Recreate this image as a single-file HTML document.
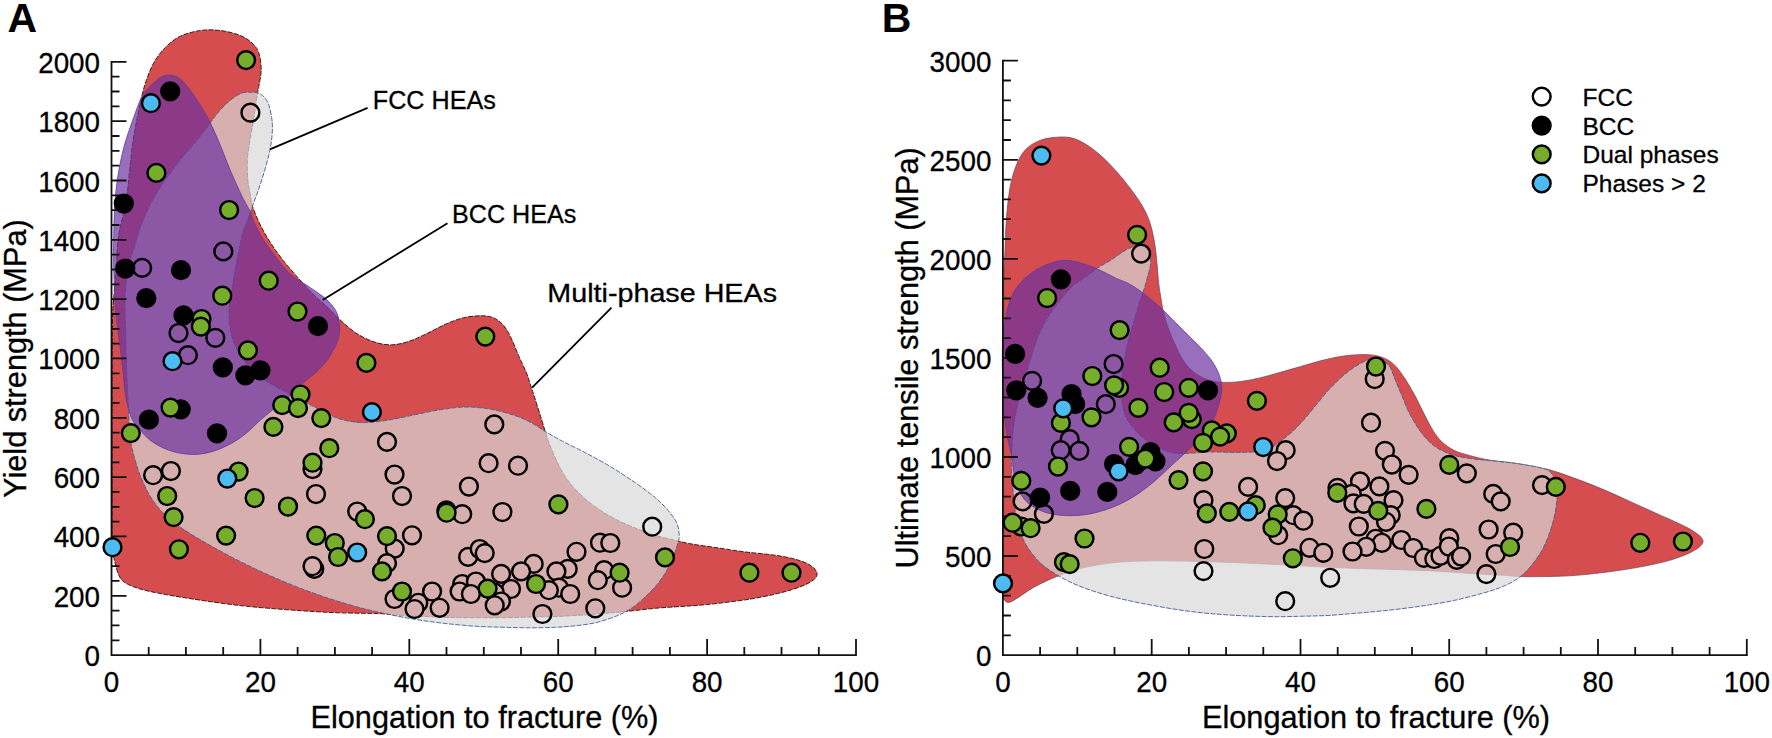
<!DOCTYPE html>
<html lang="en"><head><meta charset="utf-8"><title>HEA strength vs elongation</title>
<style>
html,body{margin:0;padding:0;background:#fff}
body{width:1772px;height:738px;overflow:hidden}
svg{display:block}
text{font-family:"Liberation Sans",sans-serif;fill:#000}
.tk,.ax,.an,.lg text{stroke:#000;stroke-width:.3px}
.tk{font-size:28.5px}
.ax{font-size:30.7px}
.pl{font-size:41px;font-weight:bold;fill:#000}
.an{font-size:26.4px}
.lg text{font-size:24.5px}
</style></head><body>
<svg width="1772" height="738" viewBox="0 0 1772 738">
<rect width="100%" height="100%" fill="#fff"/>
<g id="panelA">
<g id="bgA">
<path d="M112.0 548.0C111.9 539.3 112.0 518.0 112.0 500.0C112.0 482.0 112.0 460.0 112.0 440.0C112.0 420.0 111.9 400.0 112.0 380.0C112.1 360.0 112.2 334.2 112.5 320.0C112.8 305.8 113.4 303.3 114.0 295.0C114.6 286.7 115.3 279.7 116.0 270.0C116.7 260.3 117.2 246.1 118.4 237.0C119.6 227.9 121.5 222.7 123.0 215.5C124.5 208.3 126.0 201.5 127.1 193.8C128.2 186.1 128.9 177.5 129.8 169.4C130.7 161.3 131.4 153.1 132.5 145.0C133.6 136.9 135.1 128.6 136.6 120.7C138.1 112.8 139.8 104.5 141.4 97.7C143.0 91.0 144.3 86.0 146.4 80.2C148.5 74.4 150.8 68.0 153.9 62.6C157.0 57.2 160.8 52.0 165.2 47.6C169.6 43.2 174.3 39.1 180.2 36.3C186.0 33.4 193.6 31.5 200.3 30.5C207.0 29.5 213.6 29.7 220.3 30.5C227.0 31.3 235.0 33.3 240.4 35.5C245.8 37.7 249.8 40.8 252.9 43.8C256.0 46.8 257.7 49.4 259.1 53.8C260.5 58.2 261.2 64.9 261.2 70.1C261.2 75.3 259.7 81.2 259.1 85.2C258.5 89.2 258.3 88.1 257.4 93.9C256.4 99.8 254.7 112.6 253.4 120.3C252.2 128.0 250.9 133.6 249.9 140.3C248.9 147.0 247.7 153.7 247.4 160.4C247.1 167.1 247.4 174.6 247.9 180.4C248.4 186.2 249.6 190.9 250.4 195.4C251.2 199.9 251.2 202.6 252.9 207.5C254.6 212.4 257.5 219.2 260.4 225.1C263.3 230.9 266.6 236.8 270.4 242.6C274.2 248.4 278.4 254.3 283.0 260.2C287.6 266.1 293.0 272.1 298.0 277.7C303.0 283.3 308.0 289.0 313.0 294.0C318.0 299.0 323.5 303.4 328.1 307.8C332.7 312.2 336.0 316.1 340.6 320.3C345.2 324.5 350.2 329.2 355.6 332.8C361.0 336.4 367.4 339.6 373.2 341.6C379.0 343.6 384.8 344.9 390.7 344.9C396.6 344.9 402.4 343.4 408.3 341.6C414.2 339.8 419.5 337.0 425.8 334.1C432.1 331.2 439.6 326.8 445.9 324.1C452.2 321.4 457.5 319.2 463.4 317.8C469.2 316.4 476.0 315.8 481.0 315.8C486.0 315.8 489.8 316.2 493.5 317.8C497.2 319.4 500.6 322.0 503.5 325.3C506.4 328.6 508.5 332.8 511.0 337.8C513.5 342.8 515.9 349.5 518.5 355.4C521.1 361.3 524.5 368.1 526.5 373.0C528.5 377.9 529.2 381.0 530.5 385.0C531.8 389.0 532.9 392.0 534.5 397.0C536.1 402.0 538.4 409.4 540.2 415.1C542.0 420.8 543.8 426.8 545.2 431.4C546.7 436.0 547.2 438.3 548.9 442.7C550.6 447.1 552.9 452.7 555.2 457.7C557.5 462.7 559.8 467.9 562.7 472.7C565.6 477.5 568.9 482.1 572.7 486.5C576.5 490.9 580.7 495.0 585.3 499.0C589.9 503.0 594.9 506.7 600.3 510.3C605.7 513.9 611.5 517.3 617.8 520.4C624.1 523.5 631.6 526.6 637.9 529.1C644.2 531.6 649.1 533.5 655.4 535.4C661.7 537.3 669.2 538.9 675.5 540.4C681.8 541.9 685.9 543.0 693.0 544.2C700.1 545.5 709.7 546.6 718.1 547.9C726.5 549.1 734.0 550.5 743.2 551.7C752.4 552.9 765.2 553.9 773.2 555.0C781.2 556.1 786.4 557.1 791.5 558.3C796.6 559.5 800.2 560.6 803.7 562.0C807.2 563.4 810.1 565.0 812.2 566.6C814.3 568.2 815.7 570.0 816.5 571.5C817.3 573.0 817.3 574.3 816.8 575.7C816.3 577.1 815.4 578.5 813.4 580.0C811.4 581.5 808.5 583.3 804.9 584.9C801.2 586.5 796.8 588.2 791.5 589.8C786.2 591.4 780.3 593.0 773.2 594.6C766.1 596.2 756.9 598.0 748.8 599.3C740.7 600.6 732.5 601.6 724.4 602.6C716.3 603.6 707.3 604.6 700.0 605.2C692.7 605.9 687.9 606.0 680.5 606.5C673.1 607.0 663.8 607.5 655.4 608.3C647.0 609.0 638.8 610.2 630.4 611.0C622.0 611.8 613.6 612.6 605.3 613.3C596.9 614.0 588.6 614.7 580.3 615.2C571.9 615.7 563.6 616.2 555.2 616.5C546.8 616.8 538.5 616.8 530.1 617.0C521.8 617.2 513.5 617.6 505.1 617.7C496.8 617.8 489.0 617.7 480.0 617.7C471.0 617.7 459.9 617.7 450.9 617.5C441.9 617.3 434.1 616.8 425.8 616.5C417.5 616.2 407.9 616.1 400.8 615.6C393.7 615.1 389.5 614.2 383.2 613.8C376.9 613.4 370.7 613.5 363.2 613.3C355.7 613.1 346.5 613.1 338.1 612.8C329.7 612.5 321.4 612.0 313.0 611.5C304.6 611.0 296.4 610.4 288.0 609.8C279.6 609.2 271.3 608.5 262.9 607.8C254.5 607.0 246.2 606.3 237.8 605.3C229.5 604.3 221.2 603.2 212.8 602.0C204.5 600.8 196.0 599.5 187.7 598.2C179.3 596.9 170.6 595.5 162.7 594.0C154.8 592.5 146.4 590.9 140.1 589.0C133.8 587.1 128.7 585.0 125.1 582.7C121.5 580.4 120.5 578.5 118.8 575.2C117.1 571.9 116.0 566.6 115.0 562.7C114.0 558.8 113.0 554.5 112.5 552.0C112.0 549.5 112.1 556.7 112.0 548.0Z" fill="#d54d4e" stroke="#2a1010" stroke-width="0.9" stroke-dasharray="5 1.4"/>
<path d="M241.6 93.2C244.9 91.9 247.3 92.1 250.4 92.2C253.5 92.3 257.5 92.2 260.4 93.9C263.3 95.7 266.0 98.7 267.9 102.7C269.8 106.7 270.9 113.1 271.7 117.7C272.4 122.3 272.6 125.3 272.4 130.3C272.2 135.3 271.6 141.5 270.4 147.8C269.2 154.1 267.3 161.2 265.4 167.9C263.5 174.6 261.2 181.7 259.1 187.9C257.0 194.1 254.9 199.3 252.9 205.0C250.9 210.7 248.7 217.4 247.0 222.0C245.3 226.6 244.6 225.8 242.9 232.6C241.2 239.4 238.5 252.7 236.6 262.7C234.7 272.7 232.8 284.3 231.6 292.7C230.3 301.1 229.1 305.7 229.1 312.8C229.1 319.9 229.7 328.2 231.6 335.3C233.5 342.4 236.4 349.1 240.4 355.4C244.4 361.7 250.8 368.5 255.4 372.9C260.0 377.3 263.8 379.3 268.0 382.0C272.2 384.7 275.9 386.4 280.5 389.0C285.1 391.6 290.9 395.0 295.5 397.5C300.1 400.0 303.8 401.7 308.0 403.8C312.2 405.9 316.0 407.8 320.6 410.1C325.2 412.4 330.6 415.7 335.6 417.6C340.6 419.5 345.6 420.6 350.6 421.4C355.6 422.2 359.4 422.8 365.7 422.6C372.0 422.4 380.3 421.4 388.2 420.1C396.1 418.9 404.9 416.8 413.3 415.1C421.7 413.4 430.0 411.4 438.3 410.1C446.6 408.8 455.0 407.3 463.4 407.1C471.8 406.9 480.1 407.5 488.5 408.8C496.9 410.1 506.4 412.8 513.5 415.1C520.6 417.4 525.8 419.9 531.1 422.6C536.4 425.3 539.9 428.3 545.2 431.4C550.5 434.5 556.0 437.8 562.7 441.4C569.4 444.9 577.4 448.5 585.3 452.7C593.2 456.9 601.9 461.5 610.3 466.5C618.6 471.5 627.9 477.6 635.4 482.8C642.9 488.0 650.0 493.2 655.4 497.8C660.8 502.4 664.5 506.1 668.0 510.3C671.5 514.5 674.8 518.7 676.7 522.9C678.6 527.1 679.0 532.1 679.2 535.4C679.4 538.7 679.0 538.9 678.0 542.6C677.0 546.3 675.1 552.6 673.0 557.6C670.9 562.6 668.4 567.9 665.5 572.7C662.6 577.5 659.2 582.1 655.4 586.5C651.6 590.9 647.1 595.2 642.9 599.0C638.7 602.8 635.0 606.1 630.4 609.0C625.8 611.9 621.1 614.2 615.3 616.5C609.4 618.8 602.0 621.2 595.3 622.8C588.6 624.3 581.9 625.0 575.2 625.8C568.5 626.5 562.7 627.0 555.2 627.3C547.7 627.6 538.5 627.8 530.1 627.8C521.8 627.8 513.5 627.5 505.1 627.3C496.8 627.1 489.0 627.0 480.0 626.5C471.0 626.0 460.8 625.1 450.9 624.1C441.0 623.1 430.0 621.7 420.8 620.3C411.6 618.9 403.2 617.3 395.7 615.8C388.2 614.3 382.4 613.0 375.7 611.5C369.0 610.0 363.1 608.6 355.6 606.5C348.1 604.4 339.0 601.7 330.6 599.0C322.2 596.3 313.9 593.3 305.5 590.2C297.1 587.1 288.9 583.8 280.5 580.2C272.1 576.7 263.8 572.9 255.4 568.9C247.0 564.9 238.7 560.8 230.3 556.4C222.0 552.0 213.2 547.2 205.3 542.6C197.4 538.0 189.8 533.8 182.7 528.8C175.6 523.8 168.1 518.0 162.7 512.5C157.3 507.0 153.9 502.2 150.1 496.0C146.3 489.8 142.8 482.0 140.1 475.2C137.4 468.4 135.5 461.6 133.8 455.2C132.1 448.8 130.9 444.7 130.0 437.0C129.1 429.3 129.0 418.2 128.5 409.0C128.0 399.8 127.6 393.3 127.1 382.0C126.6 370.7 126.0 354.7 125.7 341.0C125.4 327.3 124.9 310.2 125.0 300.0C125.1 289.8 125.8 286.3 126.5 280.0C127.2 273.7 128.2 267.3 129.5 262.0C130.8 256.7 132.1 253.9 134.0 248.0C135.9 242.1 137.8 234.0 140.7 226.3C143.6 218.6 147.4 209.7 151.5 202.0C155.6 194.3 160.0 187.5 165.0 180.3C170.0 173.1 175.8 165.5 181.3 158.6C186.8 151.7 193.2 145.0 198.0 139.0C202.8 133.0 206.9 127.3 210.3 122.8C213.7 118.3 215.2 115.8 218.5 112.0C221.8 108.2 226.5 103.3 230.3 100.2C234.2 97.1 238.2 94.5 241.6 93.2Z" fill="rgb(216,216,216)" fill-opacity="0.7" stroke="#44608c" stroke-width="0.9" stroke-dasharray="5 1.4"/>
<path d="M170.2 75.1C173.5 75.3 176.9 76.4 180.2 78.9C183.5 81.4 186.8 85.8 190.2 90.2C193.5 94.6 197.0 99.8 200.3 105.2C203.7 110.6 207.0 116.1 210.3 122.8C213.6 129.5 217.0 137.4 220.3 145.3C223.6 153.2 227.0 162.5 230.3 170.4C233.7 178.3 237.7 187.1 240.4 192.9C243.1 198.7 244.9 201.8 246.6 205.0C248.3 208.2 249.1 208.9 250.4 212.0C251.7 215.1 252.3 218.6 254.6 223.4C256.9 228.2 260.9 235.8 264.2 241.0C267.5 246.2 270.0 249.4 274.2 254.8C278.4 260.2 284.1 268.3 289.6 273.4C295.1 278.5 302.3 282.1 307.1 285.4C311.9 288.7 315.2 290.9 318.5 293.3C321.8 295.7 324.5 297.6 327.0 300.0C329.5 302.4 331.9 304.9 333.7 307.4C335.5 309.9 336.9 312.5 337.8 315.2C338.7 317.9 338.9 320.9 339.2 323.7C339.5 326.5 339.9 328.9 339.6 331.8C339.3 334.7 338.7 338.1 337.6 341.3C336.5 344.5 334.5 347.7 332.8 350.8C331.1 353.9 330.3 356.3 327.4 360.0C324.5 363.7 319.6 369.1 315.5 372.9C311.4 376.7 306.2 380.0 303.0 383.0C299.8 386.0 298.9 388.2 296.0 391.0C293.1 393.8 288.9 397.2 285.5 400.0C282.1 402.8 279.6 404.2 275.4 407.6C271.2 411.0 265.4 415.7 260.4 420.1C255.4 424.5 250.4 429.9 245.4 433.9C240.4 437.9 235.7 441.0 230.3 443.9C224.9 446.8 218.7 449.6 212.8 451.4C207.0 453.1 201.0 454.2 195.2 454.4C189.3 454.6 183.1 453.8 177.7 452.7C172.3 451.6 167.3 449.8 162.7 447.7C158.1 445.6 153.9 443.1 150.1 440.2C146.3 437.3 143.0 433.5 140.1 430.1C137.2 426.8 134.6 423.9 132.6 420.1C130.6 416.4 129.3 412.2 128.1 407.6C126.8 403.0 125.8 397.1 125.1 392.5C124.4 387.9 124.5 386.3 123.8 380.0C123.1 373.7 122.1 363.6 121.1 354.9C120.1 346.2 118.6 336.8 117.6 327.8C116.6 318.8 115.6 312.0 114.9 300.7C114.2 289.4 113.8 268.8 113.6 260.0C113.4 251.2 113.5 254.5 113.6 248.0C113.7 241.5 113.8 229.9 114.1 220.9C114.4 211.9 114.9 202.4 115.7 193.8C116.5 185.2 117.5 177.5 119.0 169.4C120.5 161.3 122.2 153.1 124.4 145.0C126.7 136.9 129.6 128.8 132.5 120.7C135.4 112.6 139.1 102.0 142.0 96.3C144.9 90.6 147.1 89.5 150.1 86.4C153.1 83.3 156.8 79.5 160.2 77.6C163.5 75.7 166.9 74.9 170.2 75.1Z" fill="rgb(108,50,160)" fill-opacity="0.7" stroke="#5a3c9a" stroke-width="0.8"/>
</g>
<path d="M111.5 61.8V655.1H856.0" fill="none" stroke="#111" stroke-width="1.8" stroke-linecap="square"/>
<path d="M148.7 655.1v-8M185.9 655.1v-8M223.2 655.1v-8M260.4 655.1v-16M297.6 655.1v-8M334.9 655.1v-8M372.1 655.1v-8M409.3 655.1v-16M446.5 655.1v-8M483.8 655.1v-8M521.0 655.1v-8M558.2 655.1v-16M595.4 655.1v-8M632.6 655.1v-8M669.9 655.1v-8M707.1 655.1v-16M744.3 655.1v-8M781.5 655.1v-8M818.8 655.1v-8M856.0 655.1v-16M111.5 640.3h8M111.5 625.4h8M111.5 610.6h8M111.5 595.8h15M111.5 580.9h8M111.5 566.1h8M111.5 551.3h8M111.5 536.4h15M111.5 521.6h8M111.5 506.8h8M111.5 491.9h8M111.5 477.1h15M111.5 462.3h8M111.5 447.4h8M111.5 432.6h8M111.5 417.8h15M111.5 402.9h8M111.5 388.1h8M111.5 373.3h8M111.5 358.4h15M111.5 343.6h8M111.5 328.8h8M111.5 314.0h8M111.5 299.1h15M111.5 284.3h8M111.5 269.5h8M111.5 254.6h8M111.5 239.8h15M111.5 225.0h8M111.5 210.1h8M111.5 195.3h8M111.5 180.5h15M111.5 165.6h8M111.5 150.8h8M111.5 136.0h8M111.5 121.1h15M111.5 106.3h8M111.5 91.5h8M111.5 76.6h8M111.5 61.8h15" fill="none" stroke="#111" stroke-width="1.8"/>
<text transform="translate(111.5 692.1) scale(.975 1.035)" text-anchor="middle" class="tk">0</text>
<text transform="translate(260.4 692.1) scale(.975 1.035)" text-anchor="middle" class="tk">20</text>
<text transform="translate(409.3 692.1) scale(.975 1.035)" text-anchor="middle" class="tk">40</text>
<text transform="translate(558.2 692.1) scale(.975 1.035)" text-anchor="middle" class="tk">60</text>
<text transform="translate(707.1 692.1) scale(.975 1.035)" text-anchor="middle" class="tk">80</text>
<text transform="translate(856.0 692.1) scale(.975 1.035)" text-anchor="middle" class="tk">100</text>
<text transform="translate(100.0 666.1) scale(.975 1.035)" text-anchor="end" class="tk">0</text>
<text transform="translate(100.0 606.8) scale(.975 1.035)" text-anchor="end" class="tk">200</text>
<text transform="translate(100.0 547.4) scale(.975 1.035)" text-anchor="end" class="tk">400</text>
<text transform="translate(100.0 488.1) scale(.975 1.035)" text-anchor="end" class="tk">600</text>
<text transform="translate(100.0 428.8) scale(.975 1.035)" text-anchor="end" class="tk">800</text>
<text transform="translate(100.0 369.4) scale(.975 1.035)" text-anchor="end" class="tk">1000</text>
<text transform="translate(100.0 310.1) scale(.975 1.035)" text-anchor="end" class="tk">1200</text>
<text transform="translate(100.0 250.8) scale(.975 1.035)" text-anchor="end" class="tk">1400</text>
<text transform="translate(100.0 191.5) scale(.975 1.035)" text-anchor="end" class="tk">1600</text>
<text transform="translate(100.0 132.1) scale(.975 1.035)" text-anchor="end" class="tk">1800</text>
<text transform="translate(100.0 72.8) scale(.975 1.035)" text-anchor="end" class="tk">2000</text>
<g stroke="#000" stroke-width="2.45">
<circle cx="446.4" cy="510.4" r="8.9" fill="#d8afaf"/>
<clipPath id="c1"><circle cx="250.4" cy="112.7" r="8.9"/></clipPath><circle cx="250.4" cy="112.7" r="8.9" fill="#fff" stroke="none"/><use href="#bgA" clip-path="url(#c1)" stroke="none"/><circle cx="250.4" cy="112.7" r="8.9" fill="none"/>
<circle cx="142.1" cy="267.9" r="8.9" fill="#8c57a4"/>
<circle cx="223.3" cy="251.4" r="8.9" fill="#8c57a4"/>
<circle cx="178.5" cy="333.0" r="8.9" fill="#8c57a4"/>
<circle cx="215.3" cy="337.8" r="8.9" fill="#8c57a4"/>
<circle cx="187.9" cy="355.2" r="8.9" fill="#8c57a4"/>
<circle cx="153.1" cy="475.2" r="8.9" fill="#d8afaf"/>
<circle cx="170.9" cy="471.0" r="8.9" fill="#d8afaf"/>
<circle cx="387.0" cy="441.9" r="8.9" fill="#d8afaf"/>
<circle cx="494.3" cy="424.4" r="8.9" fill="#d8afaf"/>
<circle cx="394.5" cy="474.5" r="8.9" fill="#d8afaf"/>
<circle cx="488.6" cy="463.2" r="8.9" fill="#d8afaf"/>
<circle cx="518.0" cy="465.7" r="8.9" fill="#d8afaf"/>
<circle cx="312.5" cy="469.0" r="8.9" fill="#d8afaf"/>
<circle cx="316.0" cy="494.0" r="8.9" fill="#d8afaf"/>
<circle cx="402.0" cy="496.0" r="8.9" fill="#d8afaf"/>
<circle cx="468.9" cy="486.5" r="8.9" fill="#d8afaf"/>
<circle cx="357.2" cy="511.5" r="8.9" fill="#d8afaf"/>
<circle cx="462.2" cy="514.2" r="8.9" fill="#d8afaf"/>
<circle cx="502.4" cy="512.0" r="8.9" fill="#d8afaf"/>
<circle cx="412.0" cy="535.3" r="8.9" fill="#d8afaf"/>
<circle cx="394.7" cy="548.6" r="8.9" fill="#d8afaf"/>
<circle cx="468.1" cy="556.9" r="8.9" fill="#d8afaf"/>
<circle cx="479.7" cy="549.0" r="8.9" fill="#d8afaf"/>
<circle cx="484.7" cy="553.1" r="8.9" fill="#d8afaf"/>
<circle cx="314.3" cy="568.8" r="8.9" fill="#d8afaf"/>
<circle cx="312.5" cy="566.2" r="8.9" fill="#d8afaf"/>
<circle cx="387.0" cy="563.2" r="8.9" fill="#d8afaf"/>
<circle cx="533.7" cy="563.9" r="8.9" fill="#d8afaf"/>
<circle cx="521.1" cy="571.4" r="8.9" fill="#d8afaf"/>
<circle cx="501.1" cy="573.9" r="8.9" fill="#d8afaf"/>
<circle cx="462.2" cy="584.0" r="8.9" fill="#d8afaf"/>
<circle cx="475.9" cy="581.5" r="8.9" fill="#d8afaf"/>
<circle cx="459.6" cy="591.5" r="8.9" fill="#d8afaf"/>
<circle cx="470.9" cy="594.0" r="8.9" fill="#d8afaf"/>
<circle cx="432.1" cy="591.5" r="8.9" fill="#d8afaf"/>
<circle cx="394.5" cy="599.0" r="8.9" fill="#d8afaf"/>
<circle cx="418.3" cy="602.8" r="8.9" fill="#d8afaf"/>
<clipPath id="c2"><circle cx="414.5" cy="609.0" r="8.9"/></clipPath><circle cx="414.5" cy="609.0" r="8.9" fill="#fff" stroke="none"/><use href="#bgA" clip-path="url(#c2)" stroke="none"/><circle cx="414.5" cy="609.0" r="8.9" fill="none"/>
<circle cx="439.6" cy="607.8" r="8.9" fill="#d8afaf"/>
<circle cx="511.0" cy="589.0" r="8.9" fill="#d8afaf"/>
<circle cx="494.7" cy="592.7" r="8.9" fill="#d8afaf"/>
<circle cx="501.0" cy="601.5" r="8.9" fill="#d8afaf"/>
<circle cx="494.7" cy="605.3" r="8.9" fill="#d8afaf"/>
<clipPath id="c3"><circle cx="542.4" cy="614.0" r="8.9"/></clipPath><circle cx="542.4" cy="614.0" r="8.9" fill="#fff" stroke="none"/><use href="#bgA" clip-path="url(#c3)" stroke="none"/><circle cx="542.4" cy="614.0" r="8.9" fill="none"/>
<clipPath id="c4"><circle cx="652.2" cy="526.7" r="8.9"/></clipPath><circle cx="652.2" cy="526.7" r="8.9" fill="#fff" stroke="none"/><use href="#bgA" clip-path="url(#c4)" stroke="none"/><circle cx="652.2" cy="526.7" r="8.9" fill="none"/>
<circle cx="600.0" cy="542.7" r="8.9" fill="#d8afaf"/>
<circle cx="610.3" cy="543.0" r="8.9" fill="#d8afaf"/>
<circle cx="576.5" cy="551.8" r="8.9" fill="#d8afaf"/>
<circle cx="567.7" cy="568.9" r="8.9" fill="#d8afaf"/>
<circle cx="556.4" cy="571.4" r="8.9" fill="#d8afaf"/>
<circle cx="604.1" cy="570.2" r="8.9" fill="#d8afaf"/>
<circle cx="597.8" cy="580.2" r="8.9" fill="#d8afaf"/>
<circle cx="622.1" cy="587.7" r="8.9" fill="#d8afaf"/>
<circle cx="558.9" cy="587.7" r="8.9" fill="#d8afaf"/>
<circle cx="548.9" cy="590.2" r="8.9" fill="#d8afaf"/>
<circle cx="570.2" cy="594.0" r="8.9" fill="#d8afaf"/>
<clipPath id="c5"><circle cx="595.3" cy="608.3" r="8.9"/></clipPath><circle cx="595.3" cy="608.3" r="8.9" fill="#fff" stroke="none"/><use href="#bgA" clip-path="url(#c5)" stroke="none"/><circle cx="595.3" cy="608.3" r="8.9" fill="none"/>
<circle cx="170.2" cy="91.4" r="8.9" fill="#000"/>
<circle cx="123.8" cy="203.5" r="8.9" fill="#000"/>
<circle cx="125.3" cy="268.5" r="8.9" fill="#000"/>
<circle cx="181.0" cy="270.2" r="8.9" fill="#000"/>
<circle cx="146.3" cy="298.2" r="8.9" fill="#000"/>
<circle cx="183.5" cy="315.4" r="8.9" fill="#000"/>
<circle cx="318.0" cy="326.1" r="8.9" fill="#000"/>
<circle cx="222.8" cy="367.4" r="8.9" fill="#000"/>
<circle cx="260.4" cy="370.4" r="8.9" fill="#000"/>
<circle cx="245.4" cy="375.4" r="8.9" fill="#000"/>
<circle cx="148.9" cy="419.7" r="8.9" fill="#000"/>
<circle cx="180.7" cy="409.3" r="8.9" fill="#000"/>
<circle cx="217.0" cy="433.4" r="8.9" fill="#000"/>
<circle cx="246.1" cy="60.1" r="8.9" fill="#76ae2c"/>
<circle cx="156.4" cy="172.9" r="8.9" fill="#76ae2c"/>
<circle cx="229.1" cy="210.0" r="8.9" fill="#76ae2c"/>
<circle cx="268.7" cy="280.7" r="8.9" fill="#76ae2c"/>
<circle cx="222.3" cy="295.7" r="8.9" fill="#76ae2c"/>
<circle cx="297.5" cy="311.5" r="8.9" fill="#76ae2c"/>
<circle cx="201.5" cy="319.0" r="8.9" fill="#76ae2c"/>
<circle cx="200.8" cy="326.6" r="8.9" fill="#76ae2c"/>
<circle cx="247.9" cy="350.4" r="8.9" fill="#76ae2c"/>
<circle cx="366.4" cy="362.9" r="8.9" fill="#76ae2c"/>
<circle cx="485.3" cy="336.6" r="8.9" fill="#76ae2c"/>
<circle cx="130.8" cy="433.1" r="8.9" fill="#76ae2c"/>
<circle cx="170.5" cy="407.6" r="8.9" fill="#76ae2c"/>
<circle cx="273.4" cy="426.9" r="8.9" fill="#76ae2c"/>
<circle cx="282.2" cy="405.1" r="8.9" fill="#76ae2c"/>
<circle cx="300.5" cy="394.5" r="8.9" fill="#76ae2c"/>
<circle cx="298.0" cy="408.1" r="8.9" fill="#76ae2c"/>
<circle cx="321.3" cy="418.1" r="8.9" fill="#76ae2c"/>
<circle cx="329.3" cy="448.2" r="8.9" fill="#76ae2c"/>
<circle cx="312.5" cy="462.7" r="8.9" fill="#76ae2c"/>
<circle cx="238.6" cy="471.5" r="8.9" fill="#76ae2c"/>
<circle cx="167.2" cy="496.0" r="8.9" fill="#76ae2c"/>
<circle cx="254.6" cy="498.0" r="8.9" fill="#76ae2c"/>
<circle cx="288.0" cy="506.5" r="8.9" fill="#76ae2c"/>
<circle cx="173.6" cy="517.1" r="8.9" fill="#76ae2c"/>
<circle cx="226.1" cy="535.6" r="8.9" fill="#76ae2c"/>
<circle cx="178.9" cy="549.3" r="8.9" fill="#76ae2c"/>
<circle cx="364.9" cy="519.2" r="8.9" fill="#76ae2c"/>
<circle cx="316.3" cy="535.6" r="8.9" fill="#76ae2c"/>
<circle cx="334.8" cy="543.0" r="8.9" fill="#76ae2c"/>
<circle cx="338.1" cy="557.0" r="8.9" fill="#76ae2c"/>
<circle cx="387.0" cy="536.1" r="8.9" fill="#76ae2c"/>
<circle cx="446.6" cy="512.7" r="8.9" fill="#76ae2c"/>
<circle cx="382.0" cy="571.4" r="8.9" fill="#76ae2c"/>
<circle cx="402.0" cy="591.5" r="8.9" fill="#76ae2c"/>
<circle cx="487.6" cy="588.6" r="8.9" fill="#76ae2c"/>
<circle cx="536.0" cy="584.0" r="8.9" fill="#76ae2c"/>
<circle cx="558.4" cy="504.3" r="8.9" fill="#76ae2c"/>
<circle cx="665.0" cy="557.4" r="8.9" fill="#76ae2c"/>
<circle cx="619.6" cy="572.7" r="8.9" fill="#76ae2c"/>
<circle cx="749.4" cy="572.7" r="8.9" fill="#76ae2c"/>
<circle cx="791.5" cy="572.7" r="8.9" fill="#76ae2c"/>
<circle cx="150.9" cy="103.2" r="8.9" fill="#4bbbf2"/>
<circle cx="172.5" cy="361.2" r="8.9" fill="#4bbbf2"/>
<circle cx="371.9" cy="412.1" r="8.9" fill="#4bbbf2"/>
<circle cx="227.3" cy="478.5" r="8.9" fill="#4bbbf2"/>
<circle cx="112.5" cy="547.2" r="8.9" fill="#4bbbf2"/>
<circle cx="357.2" cy="552.5" r="8.9" fill="#4bbbf2"/>
</g>
</g>
<g id="panelB">
<g id="bgB">
<path d="M1003.6 590.0C1003.6 573.5 1003.6 531.7 1003.6 500.0C1003.6 468.3 1003.6 435.8 1003.6 400.0C1003.6 364.2 1003.6 309.9 1003.8 285.0C1004.0 260.1 1004.6 261.2 1005.0 250.4C1005.4 239.6 1005.5 230.8 1006.3 220.3C1007.1 209.9 1008.3 196.9 1010.0 187.7C1011.7 178.5 1013.8 171.5 1016.3 165.2C1018.8 158.9 1021.5 154.1 1025.1 150.1C1028.6 146.1 1033.0 143.5 1037.6 141.4C1042.2 139.3 1047.3 138.2 1052.7 137.6C1058.1 137.0 1064.8 136.5 1070.2 137.6C1075.6 138.7 1080.2 141.0 1085.2 143.9C1090.2 146.8 1095.3 150.7 1100.3 155.1C1105.3 159.5 1110.7 165.2 1115.3 170.2C1119.9 175.2 1123.6 179.8 1127.8 185.2C1132.0 190.6 1136.9 197.0 1140.4 202.8C1144.0 208.7 1146.8 214.0 1149.1 220.3C1151.4 226.6 1152.9 233.7 1154.2 240.4C1155.5 247.1 1156.0 253.5 1156.7 260.4C1157.4 267.3 1158.0 276.2 1158.6 282.0C1159.2 287.8 1159.6 289.9 1160.4 295.0C1161.2 300.1 1162.2 306.8 1163.6 312.6C1165.0 318.5 1167.0 324.7 1169.0 330.1C1171.0 335.5 1173.2 340.2 1175.5 345.2C1177.8 350.2 1180.1 355.8 1183.0 360.2C1185.9 364.6 1189.2 368.4 1193.0 371.5C1196.8 374.6 1200.9 377.2 1205.5 379.0C1210.1 380.8 1214.8 381.9 1220.6 382.3C1226.4 382.7 1233.9 382.3 1240.6 381.5C1247.3 380.7 1254.0 379.2 1260.7 377.7C1267.4 376.1 1274.0 374.1 1280.7 372.2C1287.4 370.3 1294.1 368.4 1300.8 366.5C1307.5 364.6 1314.1 362.4 1320.8 360.7C1327.5 359.0 1334.6 357.4 1340.9 356.4C1347.2 355.4 1353.0 354.9 1358.4 354.7C1363.8 354.5 1368.9 354.5 1373.5 355.2C1378.1 355.9 1382.2 357.0 1386.0 358.9C1389.8 360.8 1392.7 362.9 1396.0 366.5C1399.3 370.1 1402.7 375.1 1406.0 380.3C1409.3 385.5 1413.0 392.0 1416.1 397.8C1419.2 403.6 1422.0 409.9 1424.8 415.3C1427.6 420.7 1430.2 426.0 1433.0 430.4C1435.8 434.8 1438.2 438.4 1441.8 441.7C1445.3 445.0 1449.7 448.1 1454.3 450.4C1458.9 452.7 1463.4 453.8 1469.3 455.4C1475.2 457.0 1481.9 458.8 1489.4 460.1C1496.9 461.4 1506.6 461.9 1514.5 463.1C1522.4 464.3 1530.3 465.7 1537.0 467.1C1543.7 468.5 1547.5 469.1 1554.6 471.3C1561.7 473.5 1571.2 477.0 1579.6 480.1C1587.9 483.2 1596.3 486.6 1604.7 490.1C1613.1 493.7 1621.5 497.6 1629.8 501.4C1638.1 505.2 1646.4 508.9 1654.8 512.7C1663.2 516.5 1673.2 520.8 1679.9 524.0C1686.6 527.2 1691.2 529.7 1694.9 532.2C1698.7 534.7 1701.4 536.8 1702.4 539.0C1703.5 541.2 1703.3 543.0 1701.2 545.3C1699.1 547.6 1695.1 550.3 1689.9 552.8C1684.7 555.3 1677.3 558.1 1669.8 560.3C1662.3 562.5 1653.1 564.4 1644.8 566.1C1636.5 567.8 1628.0 569.0 1619.7 570.3C1611.4 571.5 1603.1 572.7 1594.7 573.6C1586.3 574.5 1578.0 575.3 1569.6 575.8C1561.2 576.3 1552.8 576.5 1544.5 576.6C1536.2 576.7 1526.2 576.8 1519.5 576.6C1512.8 576.4 1511.1 575.7 1504.4 575.3C1497.7 574.9 1487.8 574.6 1479.4 574.1C1471.1 573.6 1462.7 572.8 1454.3 572.3C1445.9 571.8 1437.6 571.2 1429.3 570.8C1421.0 570.4 1412.6 570.1 1404.2 569.8C1395.8 569.5 1387.4 569.4 1379.1 569.1C1370.8 568.9 1362.4 568.6 1354.1 568.3C1345.8 568.0 1335.4 567.6 1329.0 567.3C1322.6 567.0 1324.3 567.0 1315.8 566.6C1307.3 566.2 1290.7 565.2 1278.2 564.6C1265.7 564.0 1253.1 563.3 1240.6 562.8C1228.1 562.3 1215.5 561.9 1203.0 561.6C1190.5 561.3 1177.9 560.8 1165.4 560.8C1152.9 560.8 1138.2 561.0 1127.8 561.6C1117.4 562.2 1111.1 562.9 1102.8 564.1C1094.5 565.4 1084.8 567.2 1077.7 569.1C1070.6 571.0 1065.2 573.4 1060.2 575.3C1055.2 577.2 1052.2 578.3 1047.6 580.4C1043.0 582.5 1037.6 585.0 1032.6 587.9C1027.6 590.8 1021.6 595.5 1017.6 597.9C1013.6 600.3 1011.1 602.2 1008.8 602.4C1006.5 602.6 1004.7 601.1 1003.8 599.0C1002.9 596.9 1003.6 606.5 1003.6 590.0Z" fill="#d54d4e" stroke="#6a4058" stroke-width="0.7"/>
<path d="M1140.4 244.1C1144.0 243.3 1144.9 243.9 1146.6 245.4C1148.3 246.9 1149.8 249.6 1150.4 252.9C1151.0 256.2 1150.8 261.6 1150.4 265.4C1150.0 269.1 1148.7 272.1 1147.9 275.4C1147.1 278.7 1146.2 282.1 1145.4 285.0C1144.6 287.9 1144.2 288.7 1142.9 292.5C1141.7 296.3 1139.6 302.2 1137.9 307.6C1136.2 313.0 1134.6 319.2 1132.9 325.1C1131.2 331.0 1129.3 336.4 1127.8 342.7C1126.3 349.0 1125.1 356.4 1124.1 362.7C1123.1 369.0 1122.0 374.4 1121.6 380.3C1121.2 386.2 1121.0 392.0 1121.6 397.8C1122.2 403.6 1123.0 409.9 1125.3 415.3C1127.6 420.7 1131.2 425.8 1135.4 430.4C1139.6 435.0 1145.4 439.6 1150.4 442.9C1155.4 446.2 1160.4 448.6 1165.4 450.4C1170.4 452.2 1173.0 453.2 1180.5 453.5C1188.0 453.8 1200.6 452.2 1210.6 452.0C1220.6 451.8 1231.4 452.7 1240.6 452.4C1249.8 452.1 1259.4 452.0 1265.7 450.4C1272.0 448.8 1274.0 445.8 1278.2 442.9C1282.4 440.0 1286.6 436.6 1290.8 432.9C1295.0 429.1 1299.1 425.0 1303.3 420.4C1307.5 415.8 1311.6 410.3 1315.8 405.3C1320.0 400.3 1324.1 394.9 1328.3 390.3C1332.5 385.7 1336.7 381.5 1340.9 377.7C1345.1 373.9 1349.2 370.5 1353.4 367.7C1357.6 364.9 1362.1 362.2 1365.9 360.7C1369.7 359.2 1372.9 358.3 1376.0 358.5C1379.1 358.7 1382.3 360.5 1384.7 362.0C1387.1 363.5 1388.6 364.6 1390.4 367.7C1392.2 370.8 1393.5 375.7 1395.4 380.3C1397.3 384.9 1399.4 389.9 1401.7 395.3C1404.0 400.7 1406.5 407.4 1409.2 412.8C1411.9 418.2 1414.9 423.3 1418.0 427.9C1421.1 432.5 1424.5 436.8 1428.0 440.4C1431.5 443.9 1434.9 446.7 1439.3 449.2C1443.7 451.7 1449.3 453.9 1454.3 455.4C1459.3 456.9 1463.4 457.5 1469.3 458.4C1475.2 459.3 1481.9 459.8 1489.4 460.6C1496.9 461.4 1506.6 462.2 1514.5 463.3C1522.4 464.4 1531.2 465.8 1537.0 467.1C1542.8 468.4 1546.5 468.7 1549.6 471.3C1552.7 473.9 1554.5 478.2 1555.8 482.6C1557.0 487.0 1557.3 492.2 1557.1 497.6C1556.9 503.0 1555.8 509.4 1554.6 515.2C1553.3 521.1 1551.7 526.9 1549.6 532.7C1547.5 538.6 1545.3 544.4 1542.0 550.3C1538.7 556.1 1533.7 563.0 1529.5 567.8C1525.3 572.6 1522.0 575.8 1517.0 579.1C1512.0 582.5 1505.7 585.4 1499.4 587.9C1493.1 590.4 1486.9 592.0 1479.4 594.1C1471.9 596.2 1462.7 598.6 1454.3 600.4C1445.9 602.2 1437.6 603.6 1429.3 604.9C1421.0 606.2 1412.6 607.3 1404.2 608.4C1395.8 609.5 1387.4 610.4 1379.1 611.2C1370.8 612.0 1362.4 612.7 1354.1 613.4C1345.8 614.1 1337.5 614.9 1329.0 615.4C1320.5 615.9 1311.8 616.0 1303.3 616.2C1294.8 616.4 1286.5 616.7 1278.2 616.7C1269.9 616.7 1261.6 616.5 1253.2 616.2C1244.8 615.9 1236.5 615.5 1228.1 614.9C1219.7 614.3 1211.3 613.8 1203.0 612.9C1194.7 612.0 1186.3 611.0 1178.0 609.7C1169.7 608.5 1161.3 607.0 1152.9 605.4C1144.5 603.8 1136.2 602.3 1127.8 600.4C1119.4 598.5 1111.1 596.6 1102.8 594.1C1094.5 591.6 1085.2 588.5 1077.7 585.4C1070.2 582.3 1064.0 579.1 1057.7 575.3C1051.4 571.5 1045.3 567.8 1040.1 562.8C1034.9 557.8 1029.8 551.1 1026.3 545.3C1022.8 539.4 1020.7 533.6 1018.8 527.7C1016.9 521.9 1016.0 516.0 1015.1 510.2C1014.2 504.3 1013.8 500.1 1013.2 492.6C1012.6 485.1 1011.6 474.5 1011.5 465.0C1011.4 455.5 1011.8 444.5 1012.6 435.4C1013.4 426.3 1014.6 418.6 1016.3 410.3C1018.0 402.0 1020.3 393.7 1022.6 385.3C1024.9 376.9 1027.6 368.1 1030.1 360.2C1032.6 352.2 1034.7 344.7 1037.6 337.6C1040.5 330.5 1043.8 323.9 1047.6 317.6C1051.4 311.3 1056.0 305.3 1060.2 300.0C1064.4 294.7 1068.5 289.8 1072.7 286.0C1076.9 282.2 1081.0 280.0 1085.2 277.0C1089.4 274.0 1093.6 270.7 1097.8 267.9C1102.0 265.1 1105.7 263.3 1110.3 260.4C1114.9 257.5 1120.3 253.1 1125.3 250.4C1130.3 247.7 1136.9 244.9 1140.4 244.1Z" fill="rgb(216,216,216)" fill-opacity="0.7" stroke="#44608c" stroke-width="0.9" stroke-dasharray="5 1.4"/>
<path d="M1062.7 260.4C1068.6 260.0 1074.4 261.4 1080.2 262.9C1086.0 264.4 1092.0 266.7 1097.8 269.2C1103.6 271.7 1109.9 275.3 1115.3 277.9C1120.7 280.4 1125.4 281.6 1130.4 284.5C1135.4 287.4 1140.4 291.1 1145.4 295.0C1150.4 298.9 1155.4 303.0 1160.4 307.6C1165.4 312.2 1170.5 317.6 1175.5 322.6C1180.5 327.6 1185.9 333.0 1190.5 337.6C1195.1 342.2 1199.2 346.0 1203.0 350.2C1206.8 354.4 1210.4 358.5 1213.1 362.7C1215.8 366.9 1217.8 371.0 1219.3 375.2C1220.8 379.4 1221.8 383.2 1221.8 387.8C1221.8 392.4 1220.8 397.4 1219.3 402.8C1217.8 408.2 1215.8 415.0 1213.1 420.4C1210.4 425.8 1206.3 431.2 1203.0 435.4C1199.7 439.6 1196.5 442.1 1193.0 445.5C1189.5 448.9 1185.5 452.8 1182.0 456.0C1178.5 459.2 1175.2 462.1 1172.0 465.0C1168.8 467.9 1166.2 470.6 1163.0 473.5C1159.8 476.4 1157.1 479.2 1152.9 482.6C1148.7 486.0 1143.3 490.3 1137.9 493.9C1132.5 497.4 1126.6 501.0 1120.3 503.9C1114.0 506.8 1107.0 509.5 1100.3 511.4C1093.6 513.3 1086.9 514.6 1080.2 515.2C1073.5 515.8 1066.5 515.8 1060.2 515.2C1053.9 514.6 1048.0 513.5 1042.6 511.4C1037.2 509.3 1031.6 506.2 1027.6 502.7C1023.6 499.1 1021.1 495.1 1018.8 490.1C1016.5 485.1 1014.9 478.0 1013.8 472.6C1012.7 467.2 1012.9 462.1 1012.2 458.0C1011.5 453.9 1010.7 451.7 1009.8 448.0C1008.9 444.3 1007.8 440.3 1007.0 436.0C1006.2 431.7 1005.7 426.3 1005.0 422.0C1004.3 417.7 1003.4 417.0 1003.0 410.0C1002.6 403.0 1002.6 390.8 1002.5 380.0C1002.4 369.2 1002.1 354.6 1002.5 345.0C1002.9 335.4 1003.8 329.2 1004.9 322.3C1006.0 315.4 1007.0 309.3 1009.0 303.4C1011.0 297.5 1013.5 292.1 1017.1 287.1C1020.7 282.1 1026.0 277.2 1030.7 273.6C1035.4 270.0 1039.8 267.6 1045.1 265.4C1050.4 263.2 1056.8 260.8 1062.7 260.4Z" fill="rgb(108,50,160)" fill-opacity="0.7" stroke="#5a3c9a" stroke-width="0.8"/>
</g>
<path d="M1002.9 60.7V655.1H1746.8" fill="none" stroke="#111" stroke-width="1.8" stroke-linecap="square"/>
<path d="M1040.1 655.1v-8M1077.3 655.1v-8M1114.5 655.1v-8M1151.7 655.1v-16M1188.9 655.1v-8M1226.1 655.1v-8M1263.3 655.1v-8M1300.5 655.1v-16M1337.7 655.1v-8M1374.8 655.1v-8M1412.0 655.1v-8M1449.2 655.1v-16M1486.4 655.1v-8M1523.6 655.1v-8M1560.8 655.1v-8M1598.0 655.1v-16M1635.2 655.1v-8M1672.4 655.1v-8M1709.6 655.1v-8M1746.8 655.1v-16M1002.9 635.3h8M1002.9 615.5h8M1002.9 595.7h8M1002.9 575.8h8M1002.9 556.0h15M1002.9 536.2h8M1002.9 516.4h8M1002.9 496.6h8M1002.9 476.8h8M1002.9 457.0h15M1002.9 437.2h8M1002.9 417.3h8M1002.9 397.5h8M1002.9 377.7h8M1002.9 357.9h15M1002.9 338.1h8M1002.9 318.3h8M1002.9 298.5h8M1002.9 278.6h8M1002.9 258.8h15M1002.9 239.0h8M1002.9 219.2h8M1002.9 199.4h8M1002.9 179.6h8M1002.9 159.8h15M1002.9 140.0h8M1002.9 120.1h8M1002.9 100.3h8M1002.9 80.5h8M1002.9 60.7h15" fill="none" stroke="#111" stroke-width="1.8"/>
<text transform="translate(1002.9 692.1) scale(.975 1.035)" text-anchor="middle" class="tk">0</text>
<text transform="translate(1151.7 692.1) scale(.975 1.035)" text-anchor="middle" class="tk">20</text>
<text transform="translate(1300.5 692.1) scale(.975 1.035)" text-anchor="middle" class="tk">40</text>
<text transform="translate(1449.2 692.1) scale(.975 1.035)" text-anchor="middle" class="tk">60</text>
<text transform="translate(1598.0 692.1) scale(.975 1.035)" text-anchor="middle" class="tk">80</text>
<text transform="translate(1746.8 692.1) scale(.975 1.035)" text-anchor="middle" class="tk">100</text>
<text transform="translate(991.4 666.1) scale(.975 1.035)" text-anchor="end" class="tk">0</text>
<text transform="translate(991.4 567.0) scale(.975 1.035)" text-anchor="end" class="tk">500</text>
<text transform="translate(991.4 468.0) scale(.975 1.035)" text-anchor="end" class="tk">1000</text>
<text transform="translate(991.4 368.9) scale(.975 1.035)" text-anchor="end" class="tk">1500</text>
<text transform="translate(991.4 269.8) scale(.975 1.035)" text-anchor="end" class="tk">2000</text>
<text transform="translate(991.4 170.8) scale(.975 1.035)" text-anchor="end" class="tk">2500</text>
<text transform="translate(991.4 71.7) scale(.975 1.035)" text-anchor="end" class="tk">3000</text>
<g stroke="#000" stroke-width="2.45">
<circle cx="1337.5" cy="487.8" r="8.9" fill="#d8afaf"/>
<circle cx="1141.1" cy="253.6" r="8.9" fill="#d8afaf"/>
<circle cx="1032.1" cy="380.8" r="8.9" fill="#8c57a4"/>
<circle cx="1113.6" cy="364.0" r="8.9" fill="#8c57a4"/>
<circle cx="1105.8" cy="404.1" r="8.9" fill="#8c57a4"/>
<circle cx="1069.7" cy="439.1" r="8.9" fill="#8c57a4"/>
<circle cx="1060.7" cy="450.2" r="8.9" fill="#8c57a4"/>
<circle cx="1079.3" cy="450.8" r="8.9" fill="#8c57a4"/>
<circle cx="1374.7" cy="379.0" r="8.9" fill="#d8afaf"/>
<circle cx="1371.0" cy="422.7" r="8.9" fill="#d8afaf"/>
<circle cx="1285.7" cy="450.2" r="8.9" fill="#d8afaf"/>
<circle cx="1385.0" cy="450.8" r="8.9" fill="#d8afaf"/>
<circle cx="1277.0" cy="461.0" r="8.9" fill="#d8afaf"/>
<circle cx="1391.8" cy="464.5" r="8.9" fill="#d8afaf"/>
<clipPath id="c6"><circle cx="1022.6" cy="501.4" r="8.9"/></clipPath><circle cx="1022.6" cy="501.4" r="8.9" fill="#fff" stroke="none"/><use href="#bgB" clip-path="url(#c6)" stroke="none"/><circle cx="1022.6" cy="501.4" r="8.9" fill="none"/>
<clipPath id="c7"><circle cx="1043.9" cy="513.9" r="8.9"/></clipPath><circle cx="1043.9" cy="513.9" r="8.9" fill="#fff" stroke="none"/><use href="#bgB" clip-path="url(#c7)" stroke="none"/><circle cx="1043.9" cy="513.9" r="8.9" fill="none"/>
<circle cx="1248.1" cy="486.9" r="8.9" fill="#d8afaf"/>
<circle cx="1203.5" cy="500.2" r="8.9" fill="#d8afaf"/>
<circle cx="1285.2" cy="498.1" r="8.9" fill="#d8afaf"/>
<circle cx="1293.3" cy="515.2" r="8.9" fill="#d8afaf"/>
<circle cx="1303.3" cy="520.7" r="8.9" fill="#d8afaf"/>
<circle cx="1278.2" cy="535.2" r="8.9" fill="#d8afaf"/>
<circle cx="1204.3" cy="549.0" r="8.9" fill="#d8afaf"/>
<circle cx="1309.5" cy="547.8" r="8.9" fill="#d8afaf"/>
<circle cx="1323.3" cy="552.8" r="8.9" fill="#d8afaf"/>
<circle cx="1203.5" cy="571.1" r="8.9" fill="#e4e4e4"/>
<circle cx="1330.2" cy="577.8" r="8.9" fill="#e4e4e4"/>
<circle cx="1285.2" cy="601.2" r="8.9" fill="#e4e4e4"/>
<circle cx="1408.6" cy="474.8" r="8.9" fill="#d8afaf"/>
<circle cx="1360.0" cy="481.4" r="8.9" fill="#d8afaf"/>
<circle cx="1379.4" cy="486.4" r="8.9" fill="#d8afaf"/>
<circle cx="1351.8" cy="493.9" r="8.9" fill="#d8afaf"/>
<circle cx="1353.4" cy="503.3" r="8.9" fill="#d8afaf"/>
<circle cx="1363.7" cy="503.9" r="8.9" fill="#d8afaf"/>
<circle cx="1393.5" cy="500.2" r="8.9" fill="#d8afaf"/>
<circle cx="1390.7" cy="515.2" r="8.9" fill="#d8afaf"/>
<circle cx="1386.0" cy="521.8" r="8.9" fill="#d8afaf"/>
<circle cx="1358.8" cy="526.5" r="8.9" fill="#d8afaf"/>
<circle cx="1375.7" cy="538.8" r="8.9" fill="#d8afaf"/>
<circle cx="1381.9" cy="542.8" r="8.9" fill="#d8afaf"/>
<circle cx="1401.3" cy="540.0" r="8.9" fill="#d8afaf"/>
<circle cx="1366.2" cy="546.8" r="8.9" fill="#d8afaf"/>
<circle cx="1352.5" cy="551.5" r="8.9" fill="#d8afaf"/>
<circle cx="1413.2" cy="548.0" r="8.9" fill="#d8afaf"/>
<circle cx="1423.9" cy="557.8" r="8.9" fill="#d8afaf"/>
<circle cx="1434.3" cy="559.0" r="8.9" fill="#d8afaf"/>
<circle cx="1440.5" cy="555.8" r="8.9" fill="#d8afaf"/>
<circle cx="1449.3" cy="538.2" r="8.9" fill="#d8afaf"/>
<circle cx="1448.8" cy="546.5" r="8.9" fill="#d8afaf"/>
<circle cx="1456.8" cy="559.8" r="8.9" fill="#d8afaf"/>
<circle cx="1461.1" cy="556.5" r="8.9" fill="#d8afaf"/>
<circle cx="1466.8" cy="473.3" r="8.9" fill="#d8afaf"/>
<circle cx="1542.0" cy="485.1" r="8.9" fill="#d8afaf"/>
<circle cx="1493.2" cy="493.9" r="8.9" fill="#d8afaf"/>
<circle cx="1500.7" cy="501.4" r="8.9" fill="#d8afaf"/>
<circle cx="1488.6" cy="529.5" r="8.9" fill="#d8afaf"/>
<circle cx="1513.2" cy="532.7" r="8.9" fill="#d8afaf"/>
<circle cx="1495.7" cy="554.0" r="8.9" fill="#d8afaf"/>
<clipPath id="c8"><circle cx="1486.4" cy="574.1" r="8.9"/></clipPath><circle cx="1486.4" cy="574.1" r="8.9" fill="#fff" stroke="none"/><use href="#bgB" clip-path="url(#c8)" stroke="none"/><circle cx="1486.4" cy="574.1" r="8.9" fill="none"/>
<circle cx="1060.9" cy="279.3" r="8.9" fill="#000"/>
<circle cx="1015.1" cy="353.9" r="8.9" fill="#000"/>
<circle cx="1016.3" cy="390.3" r="8.9" fill="#000"/>
<circle cx="1037.6" cy="397.8" r="8.9" fill="#000"/>
<circle cx="1071.5" cy="394.0" r="8.9" fill="#000"/>
<circle cx="1075.2" cy="404.1" r="8.9" fill="#000"/>
<circle cx="1208.0" cy="390.3" r="8.9" fill="#000"/>
<circle cx="1150.4" cy="452.0" r="8.9" fill="#000"/>
<circle cx="1155.4" cy="461.3" r="8.9" fill="#000"/>
<circle cx="1140.4" cy="460.5" r="8.9" fill="#000"/>
<circle cx="1135.4" cy="465.1" r="8.9" fill="#000"/>
<circle cx="1114.1" cy="464.0" r="8.9" fill="#000"/>
<circle cx="1040.1" cy="497.6" r="8.9" fill="#000"/>
<circle cx="1070.2" cy="490.9" r="8.9" fill="#000"/>
<circle cx="1107.3" cy="491.9" r="8.9" fill="#000"/>
<circle cx="1137.1" cy="234.8" r="8.9" fill="#76ae2c"/>
<circle cx="1047.1" cy="298.0" r="8.9" fill="#76ae2c"/>
<circle cx="1119.6" cy="330.1" r="8.9" fill="#76ae2c"/>
<circle cx="1092.3" cy="376.0" r="8.9" fill="#76ae2c"/>
<circle cx="1119.1" cy="387.8" r="8.9" fill="#76ae2c"/>
<circle cx="1114.1" cy="385.3" r="8.9" fill="#76ae2c"/>
<circle cx="1159.7" cy="367.7" r="8.9" fill="#76ae2c"/>
<circle cx="1164.2" cy="392.0" r="8.9" fill="#76ae2c"/>
<circle cx="1188.7" cy="387.8" r="8.9" fill="#76ae2c"/>
<circle cx="1138.4" cy="407.8" r="8.9" fill="#76ae2c"/>
<circle cx="1191.8" cy="419.1" r="8.9" fill="#76ae2c"/>
<circle cx="1188.7" cy="412.8" r="8.9" fill="#76ae2c"/>
<circle cx="1173.7" cy="422.4" r="8.9" fill="#76ae2c"/>
<circle cx="1091.5" cy="417.3" r="8.9" fill="#76ae2c"/>
<circle cx="1060.9" cy="422.9" r="8.9" fill="#76ae2c"/>
<circle cx="1256.9" cy="400.8" r="8.9" fill="#76ae2c"/>
<circle cx="1211.8" cy="430.4" r="8.9" fill="#76ae2c"/>
<circle cx="1226.8" cy="433.4" r="8.9" fill="#76ae2c"/>
<circle cx="1220.1" cy="436.6" r="8.9" fill="#76ae2c"/>
<circle cx="1203.0" cy="442.8" r="8.9" fill="#76ae2c"/>
<circle cx="1129.1" cy="446.8" r="8.9" fill="#76ae2c"/>
<circle cx="1145.4" cy="458.6" r="8.9" fill="#76ae2c"/>
<circle cx="1058.0" cy="466.5" r="8.9" fill="#76ae2c"/>
<circle cx="1376.0" cy="366.5" r="8.9" fill="#76ae2c"/>
<circle cx="1021.3" cy="480.9" r="8.9" fill="#76ae2c"/>
<circle cx="1203.0" cy="471.3" r="8.9" fill="#76ae2c"/>
<circle cx="1178.5" cy="480.1" r="8.9" fill="#76ae2c"/>
<circle cx="1206.8" cy="513.4" r="8.9" fill="#76ae2c"/>
<circle cx="1229.3" cy="511.9" r="8.9" fill="#76ae2c"/>
<circle cx="1255.7" cy="505.2" r="8.9" fill="#76ae2c"/>
<circle cx="1277.7" cy="514.4" r="8.9" fill="#76ae2c"/>
<circle cx="1272.5" cy="527.7" r="8.9" fill="#76ae2c"/>
<circle cx="1337.3" cy="492.8" r="8.9" fill="#76ae2c"/>
<circle cx="1378.2" cy="510.9" r="8.9" fill="#76ae2c"/>
<circle cx="1426.4" cy="508.9" r="8.9" fill="#76ae2c"/>
<circle cx="1292.8" cy="558.3" r="8.9" fill="#76ae2c"/>
<circle cx="1084.5" cy="538.5" r="8.9" fill="#76ae2c"/>
<circle cx="1021.3" cy="526.5" r="8.9" fill="#76ae2c"/>
<circle cx="1012.6" cy="522.7" r="8.9" fill="#76ae2c"/>
<circle cx="1030.6" cy="528.2" r="8.9" fill="#76ae2c"/>
<circle cx="1063.9" cy="562.1" r="8.9" fill="#76ae2c"/>
<circle cx="1069.7" cy="564.1" r="8.9" fill="#76ae2c"/>
<circle cx="1449.3" cy="464.8" r="8.9" fill="#76ae2c"/>
<circle cx="1555.8" cy="486.9" r="8.9" fill="#76ae2c"/>
<circle cx="1510.0" cy="547.0" r="8.9" fill="#76ae2c"/>
<circle cx="1640.3" cy="542.8" r="8.9" fill="#76ae2c"/>
<circle cx="1682.9" cy="541.5" r="8.9" fill="#76ae2c"/>
<circle cx="1041.4" cy="155.6" r="8.9" fill="#4bbbf2"/>
<circle cx="1063.2" cy="408.3" r="8.9" fill="#4bbbf2"/>
<circle cx="1263.2" cy="447.0" r="8.9" fill="#4bbbf2"/>
<circle cx="1118.6" cy="471.3" r="8.9" fill="#4bbbf2"/>
<circle cx="1248.1" cy="511.4" r="8.9" fill="#4bbbf2"/>
<circle cx="1003.0" cy="583.4" r="8.9" fill="#4bbbf2"/>
</g>
</g>

<text x="7.5" y="31.7" class="pl">A</text>
<text x="881.8" y="31.7" class="pl">B</text>
<text x="484.5" y="728" text-anchor="middle" class="ax">Elongation to fracture (%)</text>
<text x="1376" y="728" text-anchor="middle" class="ax">Elongation to fracture (%)</text>
<text transform="translate(26.3,358.6) rotate(-90)" text-anchor="middle" class="ax">Yield strength (MPa)</text>
<text transform="translate(917.5,357.8) rotate(-90)" text-anchor="middle" class="ax">Ultimate tensile strength (MPa)</text>
<g stroke="#000" stroke-width="1.8" fill="none" stroke-linecap="butt">
<path d="M367.6 107.9L269.9 149.3"/>
<path d="M447.5 223.2L322.7 300"/>
<path d="M611.5 307.6L532.1 387.7"/>
</g>
<text x="372.8" y="108.5" class="an" textLength="123" lengthAdjust="spacingAndGlyphs">FCC HEAs</text>
<text x="452" y="223.2" class="an" textLength="124.3" lengthAdjust="spacingAndGlyphs">BCC HEAs</text>
<text x="547.3" y="301.5" class="an" textLength="229.7" lengthAdjust="spacingAndGlyphs">Multi-phase HEAs</text>
<g class="lg">
<text x="1582.5" y="105.5">FCC</text>
<text x="1582.5" y="134.5">BCC</text>
<text x="1582.5" y="163.4">Dual phases</text>
<text x="1582.5" y="192.3">Phases &gt; 2</text>
</g>

<g stroke="#000" stroke-width="2.45"><circle cx="1541.7" cy="96.6" r="8.9" fill="#ffffff"/><circle cx="1541.7" cy="125.6" r="8.9" fill="#000"/><circle cx="1541.7" cy="154.4" r="8.9" fill="#76ae2c"/><circle cx="1541.7" cy="183.4" r="8.9" fill="#4bbbf2"/></g>
</svg>
</body></html>
